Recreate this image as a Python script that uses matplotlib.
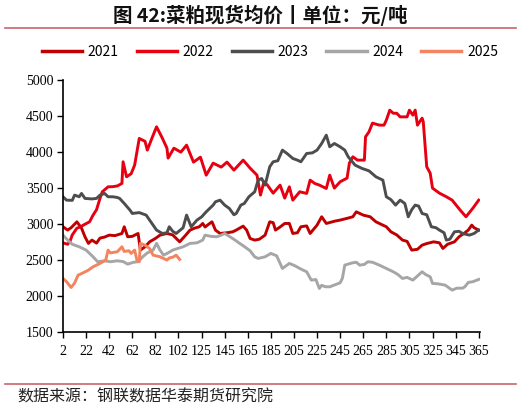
import numpy as np
import matplotlib
matplotlib.use("Agg")
import matplotlib.pyplot as plt
from matplotlib.lines import Line2D

plt.rcParams['font.family'] = ['Noto Sans CJK SC', 'DejaVu Sans']

# tick labels on the category axis (one label every 20 points)
tick_labels = [2, 22, 42, 62, 82, 102, 125, 145, 165, 185, 205, 225, 245, 265,
               285, 305, 325, 345, 365]

# point index on the axis and price (yuan/ton)
x2021 = [0, 4, 7, 12, 16, 19, 22, 25, 29, 32, 36, 40, 45, 51, 53, 56, 60, 65, 67, 71,
         75, 80, 84, 90, 95, 101, 105, 110, 114, 118, 121, 123, 127, 129, 132, 136, 142,
         147, 150, 156, 159, 162, 166, 170, 175, 179, 182, 184, 188, 192, 196, 199, 203,
         206, 211, 214, 220, 224, 228, 235, 240, 246, 251, 254, 260, 266, 271, 277, 280,
         284, 289, 294, 298, 302, 307, 311, 315, 321, 326, 329, 333, 339, 343, 348, 351,
         354, 356, 360]
y2021 = [2963, 2917, 2950, 3032, 2944, 2824, 2732, 2778, 2736, 2806, 2820, 2847, 2840,
         2870, 2963, 2824, 2830, 2870, 2639, 2685, 2754, 2801, 2847, 2870, 2850, 2754,
         2824, 2917, 2944, 2963, 3009, 2960, 3009, 3032, 2917, 2870, 2880, 2893, 2917,
         2972, 2917, 2801, 2778, 2790, 2847, 3032, 3020, 2917, 2960, 3009, 3009, 2870,
         2880, 2963, 2975, 2870, 2986, 3102, 3009, 3040, 3056, 3080, 3102, 3171, 3125,
         3102, 3032, 2986, 2963, 2893, 2850, 2778, 2760, 2639, 2650, 2708, 2730, 2754,
         2740, 2662, 2720, 2754, 2824, 2880, 2917, 2986, 2950, 2917]

x2022 = [0, 4, 6, 8, 12, 15, 18, 23, 26, 29, 32, 34, 39, 43, 47, 51, 52, 55, 59, 62, 66,
         71, 73, 77, 81, 86, 90, 91, 96, 102, 107, 113, 119, 124, 130, 137, 142, 148, 156,
         162, 168, 171, 174, 177, 182, 188, 192, 196, 199, 205, 211, 214, 218, 222, 228,
         231, 235, 240, 246, 248, 251, 255, 261, 262, 265, 268, 274, 278, 280, 283, 286,
         289, 292, 298, 300, 303, 305, 307, 311, 312, 315, 318, 320, 326, 332, 337, 344,
         349, 355, 360]
y2022 = [2740, 2720, 2760, 2850, 2944, 2960, 2990, 3032, 3125, 3200, 3357, 3449, 3518,
         3520, 3530, 3565, 3866, 3657, 3700, 3819, 4190, 4150, 4028, 4194, 4352, 4194,
         4055, 3917, 4055, 4000, 4097, 3861, 3930, 3680, 3847, 3792, 3861, 3750, 3889,
         3778, 3680, 3403, 3588, 3542, 3430, 3542, 3361, 3518, 3333, 3449, 3426, 3611,
         3565, 3542, 3495, 3680, 3500, 3588, 3639, 3847, 3935, 3889, 3889, 4213, 4282,
         4403, 4375, 4375, 4444, 4583, 4540, 4540, 4490, 4490, 4583, 4514, 4583, 4375,
         4472, 4421, 3796, 3708, 3500, 3430, 3380, 3333, 3194, 3102, 3222, 3333]

x2023 = [0, 3, 8, 10, 14, 16, 19, 25, 29, 32, 36, 39, 43, 47, 49, 53, 58, 60, 66, 72, 77,
         81, 86, 90, 92, 95, 98, 104, 107, 111, 116, 120, 124, 130, 132, 136, 140, 144,
         148, 150, 154, 157, 161, 166, 169, 172, 175, 179, 182, 186, 190, 194, 199, 203,
         206, 211, 216, 220, 224, 228, 231, 235, 240, 244, 247, 253, 259, 265, 271, 277,
         280, 284, 288, 292, 296, 299, 302, 305, 308, 311, 315, 319, 323, 326, 330, 332,
         335, 339, 343, 346, 352, 356, 360]
y2023 = [3380, 3333, 3330, 3403, 3380, 3426, 3357, 3350, 3357, 3403, 3426, 3380, 3380,
         3370, 3357, 3287, 3194, 3148, 3160, 3125, 3009, 2917, 2870, 2880, 2963, 2900,
         2870, 2950, 3125, 2963, 3056, 3100, 3171, 3264, 3310, 3333, 3264, 3218, 3130,
         3148, 3264, 3287, 3380, 3449, 3611, 3634, 3542, 3796, 3866, 3880, 4028, 3981,
         3912, 3889, 3866, 3981, 3990, 4028, 4120, 4236, 4074, 4120, 4074, 4028, 3935,
         3819, 3773, 3740, 3657, 3611, 3380, 3340, 3264, 3333, 3287, 3102, 3200, 3264,
         3250, 3148, 3130, 2963, 2950, 2917, 2880, 2778, 2790, 2893, 2900, 2870, 2847,
         2870, 2917]

x2024 = [0, 4, 8, 14, 20, 26, 30, 36, 41, 47, 52, 56, 61, 65, 69, 73, 78, 81, 84, 87, 91,
         95, 99, 104, 110, 116, 121, 123, 128, 133, 137, 140, 144, 149, 153, 156, 162,
         166, 169, 175, 180, 185, 190, 194, 196, 201, 205, 208, 211, 215, 219, 222, 224,
         227, 231, 236, 240, 242, 244, 248, 251, 254, 257, 261, 264, 268, 274, 280, 286,
         290, 294, 298, 303, 307, 311, 314, 318, 320, 325, 331, 337, 341, 346, 348, 351,
         355, 360]
y2024 = [2847, 2778, 2720, 2685, 2639, 2546, 2477, 2490, 2477, 2490, 2480, 2444, 2470,
         2477, 2546, 2600, 2639, 2732, 2639, 2569, 2600, 2639, 2660, 2685, 2732, 2740,
         2778, 2847, 2830, 2824, 2847, 2870, 2830, 2778, 2732, 2700, 2630, 2546, 2523,
         2546, 2593, 2560, 2384, 2430, 2454, 2420, 2384, 2360, 2338, 2222, 2230, 2106,
         2150, 2130, 2129, 2160, 2185, 2250, 2430, 2450, 2463, 2470, 2430, 2440, 2477,
         2470, 2430, 2384, 2338, 2300, 2245, 2260, 2222, 2280, 2338, 2300, 2268, 2176,
         2170, 2152, 2083, 2110, 2110, 2129, 2190, 2200, 2232]

x2025 = [0, 3, 7, 10, 13, 17, 22, 26, 32, 37, 39, 41, 47, 51, 53, 57, 59, 62, 64, 66, 67,
         71, 75, 78, 84, 90, 92, 95, 98, 101]
y2025 = [2245, 2200, 2120, 2180, 2291, 2320, 2361, 2407, 2454, 2500, 2639, 2600, 2616,
         2685, 2620, 2630, 2593, 2639, 2500, 2477, 2732, 2708, 2660, 2569, 2546, 2500,
         2530, 2540, 2569, 2509]

series = [
    ("2021", x2021, y2021, "#C00000"),
    ("2022", x2022, y2022, "#E60012"),
    ("2023", x2023, y2023, "#4D4D4D"),
    ("2024", x2024, y2024, "#A6A6A6"),
    ("2025", x2025, y2025, "#F4845F"),
]

fig = plt.figure(figsize=(5.21, 4.11), dpi=100)
ax = fig.add_axes([0.121, 0.192, 0.800, 0.613])

for name, xs, ys, col in series:
    ax.plot(xs, ys, color=col, lw=2.1, label=name, solid_joinstyle="round")

ax.set_xlim(0, 361)
ax.set_ylim(1500, 5000)
ax.set_yticks(np.arange(1500, 5001, 500))
ax.set_xticks(np.arange(0, 361, 20))
ax.set_xticklabels([str(t) for t in tick_labels])
for lab in ax.get_xticklabels() + ax.get_yticklabels():
    lab.set_family("Liberation Serif")
    lab.set_fontsize(10)
ax.tick_params(axis="both", direction="out", length=4, width=1, colors="black", pad=3)
ax.tick_params(axis="x", pad=5)
ax.spines["top"].set_visible(False)
ax.spines["right"].set_visible(False)
ax.spines["left"].set_linewidth(1.2)
ax.spines["bottom"].set_linewidth(1.2)

# title and rule
fig.text(0.5, 0.962, "图 42:菜粕现货均价丨单位：元/吨", ha="center", va="center",
         fontsize=14, fontweight="bold", color="#111111")
fig.add_artist(Line2D([0.01, 0.99], [0.932, 0.932], color="#C8646E", lw=1.2))

# legend
handles = [Line2D([], [], color=c, lw=2.5) for _, _, _, c in series]
fig.legend(handles, [s[0] for s in series], loc="center", bbox_to_anchor=(0.518, 0.873),
           ncol=5, frameon=False, fontsize=10, handlelength=2.9, columnspacing=1.3,
           handletextpad=0.4)

# source footer
fig.add_artist(Line2D([0.01, 0.99], [0.066, 0.066], color="#C8646E", lw=1.2))
fig.text(0.033, 0.034, "数据来源：钢联数据华泰期货研究院", ha="left", va="center",
         fontsize=11.5, color="#222222")

fig.savefig("out.png", dpi=100)
